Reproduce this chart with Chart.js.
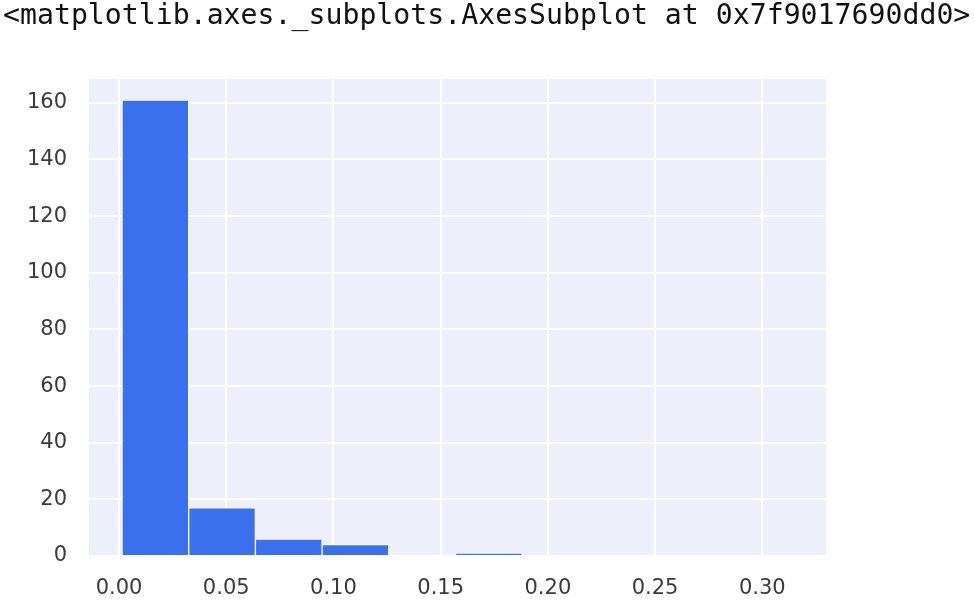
<!DOCTYPE html>
<html>
<head>
<meta charset="utf-8">
<script src="https://cdn.jsdelivr.net/npm/chart.js@4/dist/chart.umd.min.js"></script>
<style>
  body { margin: 0; background: #fff; }
  #wrap { position: relative; width: 975px; height: 601px; overflow: hidden; }
  #caption {
    position: absolute; left: 3px; top: -3px;
    font-family: "DejaVu Sans Mono", monospace; font-size: 29px; color: #111;
    white-space: nowrap; transform-origin: 0 0; transform: scaleX(0.972);
  }
  #hist { position: absolute; left: 0; top: 0; }
</style>
</head>
<body>
<div id="wrap">
  <canvas id="hist" width="975" height="601"></canvas>
  <div id="caption">&lt;matplotlib.axes._subplots.AxesSubplot at 0x7f9017690dd0&gt;</div>
</div>
<script>
// histogram bin edges and counts per bin
const binEdges = [0.0014, 0.0325, 0.0636, 0.0947, 0.1258, 0.1569, 0.1880, 0.2191, 0.2502, 0.2813, 0.3124];
const binCounts = [161, 17, 6, 4, 0, 1, 0, 0, 0, 0];
const xTickValues = [0.00, 0.05, 0.10, 0.15, 0.20, 0.25, 0.30];
const yTickValues = [0, 20, 40, 60, 80, 100, 120, 140, 160];

// bars are placed at the bin centres
const points = binCounts.map((c, i) => ({ x: (binEdges[i] + binEdges[i + 1]) / 2, y: c }));

// paints the grey-blue plot background behind the grid
const plotBackground = {
  id: 'plotBackground',
  beforeDraw(chart) {
    const { ctx, chartArea: a } = chart;
    ctx.save();
    ctx.fillStyle = '#edf0fa';
    ctx.fillRect(a.left, a.top, a.right - a.left, a.bottom - a.top);
    ctx.restore();
  }
};

const tickFont = { family: 'DejaVu Sans', size: 21 };

new Chart(document.getElementById('hist').getContext('2d'), {
  type: 'bar',
  data: {
    datasets: [{
      data: points,
      backgroundColor: '#3a70ee',
      borderColor: '#ffffff',
      borderWidth: 1,
      barPercentage: 1,
      categoryPercentage: 1
    }]
  },
  options: {
    responsive: false,
    animation: false,
    layout: { padding: { top: 79, right: 149, left: 0, bottom: 0 } },
    plugins: { legend: { display: false }, tooltip: { enabled: false } },
    scales: {
      x: {
        type: 'linear',
        offset: false,
        min: -0.014,
        max: 0.3297,
        afterBuildTicks: s => { s.ticks = xTickValues.map(v => ({ value: v })); },
        afterFit: s => { s.height = 45; },
        ticks: { font: tickFont, color: '#3a3a3a', padding: 20, callback: v => v.toFixed(2) },
        grid: { color: '#ffffff', lineWidth: 2, drawTicks: false, offset: false },
        border: { display: false }
      },
      y: {
        min: 0,
        max: 168.4,
        afterBuildTicks: s => { s.ticks = yTickValues.map(v => ({ value: v })); },
        afterFit: s => { s.width = 89; },
        ticks: { font: tickFont, color: '#3a3a3a', padding: 22 },
        grid: { color: '#ffffff', lineWidth: 2, drawTicks: false },
        border: { display: false }
      }
    }
  },
  plugins: [plotBackground]
});
</script>
</body>
</html>
